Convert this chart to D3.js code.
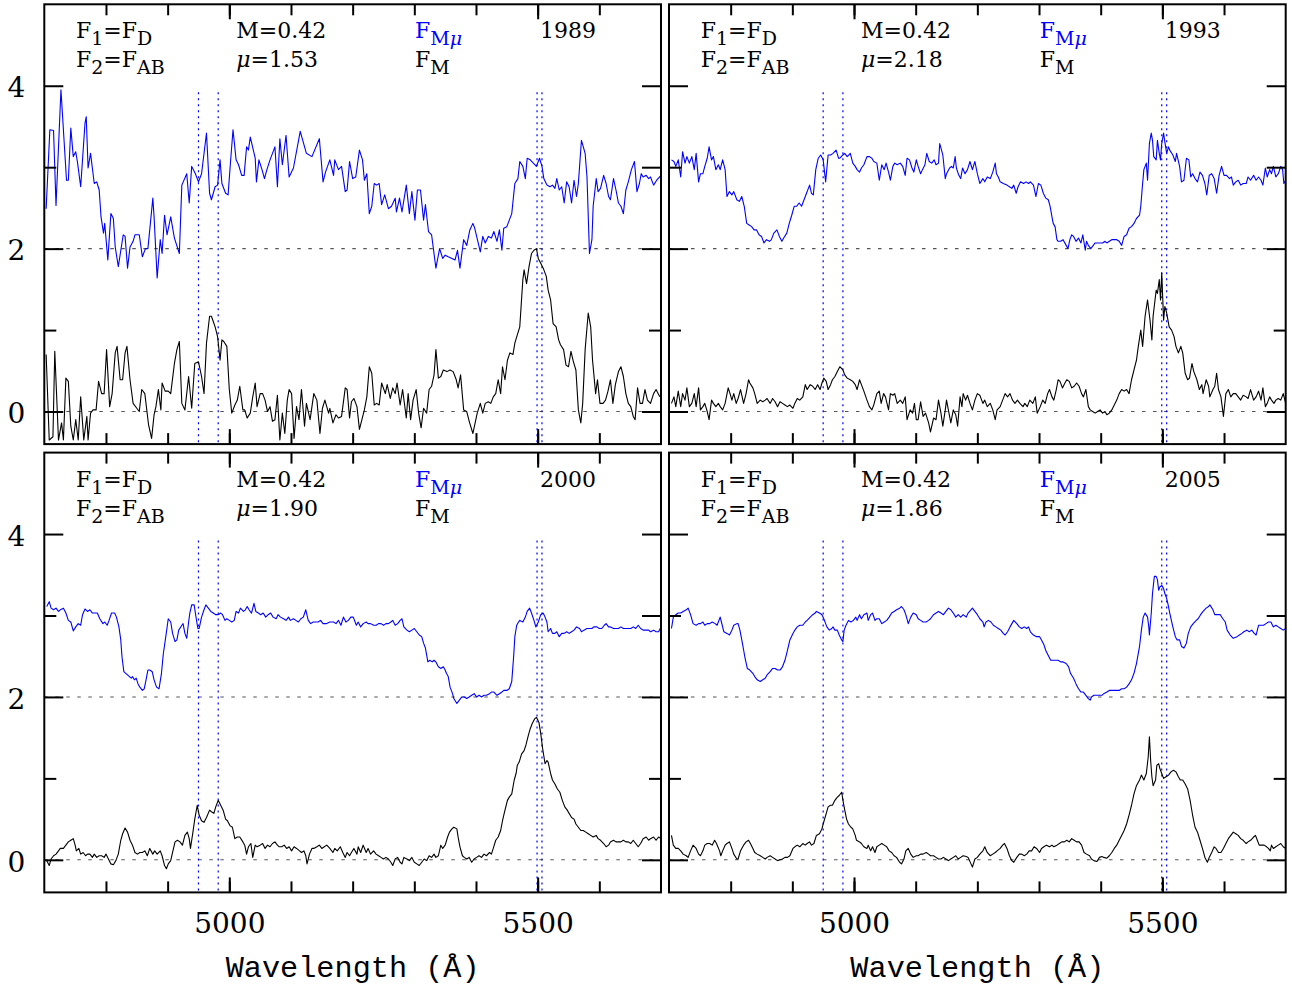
<!DOCTYPE html>
<html><head><meta charset="utf-8">
<script src="https://cdn.jsdelivr.net/npm/d3@7"></script>
<style>body{margin:0;background:#fff}svg{display:block}</style>
</head><body><svg id="c" width="1292" height="989"></svg>
<script>
// ---------- data ----------
const years = ["1989", "1993", "2000", "2005"];
const muValues = ["1.53", "2.18", "1.90", "1.86"];
const mValue = "0.42";
const xDomain = [4700, 5700];
const yDomain = [-0.4, 5.0];
const xMinorTicks = [4800, 4900, 5000, 5100, 5200, 5300, 5400, 5500, 5600];
const xMajorTicks = [5000, 5500];
const yMinorTicks = [1, 3];
const yMajorTicks = [0, 2, 4];
const yRightShortTicks = [1];
const yRightLongTicks = [0, 2, 3, 4];
const refLevels = [0, 2];
const markerLines = [4950, 4982, 5499, 5507];
const markerTop = 3.92;

const blue1989 = [[4703,2.49],[4709,3.46],[4715,3.45],[4719,2.53],[4727,3.95],[4736,2.84],[4739,2.84],[4743,3.48],[4747,3.13],[4751,3.19],[4754,3.05],[4759,2.76],[4766,3.54],[4768,3.62],[4771,2.99],[4775,3.17],[4781,2.80],[4785,2.82],[4789,2.72],[4792,2.39],[4796,2.19],[4798,2.31],[4803,1.86],[4808,2.43],[4812,2.37],[4815,2.02],[4820,1.78],[4828,2.17],[4831,2.15],[4835,1.76],[4839,2.02],[4844,2.09],[4847,2.17],[4854,2.17],[4859,1.90],[4864,2.00],[4868,2.00],[4876,2.62],[4878,2.39],[4883,1.64],[4888,2.11],[4891,1.94],[4895,2.41],[4899,2.17],[4905,2.39],[4911,2.13],[4919,1.94],[4923,2.78],[4931,2.92],[4935,2.56],[4939,3.01],[4945,2.92],[4950,2.82],[4955,2.92],[4963,3.42],[4968,2.68],[4971,2.60],[4977,2.76],[4981,2.78],[4985,3.09],[4988,2.80],[4994,2.68],[4998,2.66],[5002,3.07],[5006,3.46],[5011,3.09],[5015,3.03],[5020,2.90],[5024,2.90],[5028,3.25],[5031,3.21],[5034,3.37],[5042,3.11],[5044,2.82],[5048,3.09],[5053,2.97],[5057,2.86],[5061,2.97],[5066,3.09],[5074,3.25],[5078,2.76],[5082,3.35],[5086,3.03],[5092,3.39],[5097,2.88],[5104,2.99],[5115,3.44],[5125,3.17],[5134,3.13],[5146,3.35],[5152,2.82],[5156,2.94],
[5163,3.09],[5169,2.90],[5171,3.09],[5177,2.97],[5182,3.01],[5188,2.70],[5191,2.72],[5195,3.07],[5200,2.86],[5205,2.88],[5211,3.21],[5216,3.09],[5219,2.84],[5223,2.92],[5227,2.43],[5231,2.52],[5235,2.80],[5239,2.78],[5243,2.80],[5247,2.54],[5252,2.66],[5258,2.49],[5263,2.52],[5269,2.62],[5271,2.45],[5276,2.62],[5280,2.45],[5287,2.78],[5292,2.43],[5296,2.70],[5301,2.35],[5305,2.72],[5310,2.72],[5315,2.35],[5318,2.54],[5323,2.21],[5328,2.17],[5335,1.76],[5341,2.00],[5346,1.88],[5350,1.92],[5355,1.90],[5361,1.88],[5366,1.86],[5370,1.98],[5374,1.76],[5380,2.11],[5385,2.04],[5390,2.23],[5395,2.31],[5398,2.25],[5403,2.09],[5407,1.96],[5411,2.15],[5415,2.07],[5420,2.15],[5425,2.13],[5429,2.21],[5434,2.09],[5438,2.23],[5442,1.98],[5445,2.25],[5450,2.27],[5454,2.35],[5458,2.43],[5463,2.80],[5468,2.86],[5471,3.07],[5476,3.01],[5480,2.86],[5483,3.11],[5488,3.09],[5493,3.05],[5498,3.01],[5503,3.11],[5507,3.01],[5510,2.86],[5515,2.78],[5520,2.76],[5524,2.78],[5528,2.74],[5531,2.86],[5535,2.72],[5539,2.76],[5543,2.56],[5547,2.82],[5551,2.76],[5555,2.56],[5559,2.84],[5563,2.64],[5566,2.80],[5571,3.33],[5577,3.17],[5580,2.88],[5584,1.94],[5588,2.11],[5590,2.52],[5595,2.86],[5598,2.70],[5602,2.74],[5607,2.90],[5611,2.80],[5615,2.64],[5618,2.60],[5623,2.86],[5627,2.72],[5631,2.56],[5635,2.52],[5639,2.43],[5643,2.72],[5647,2.82],[5652,2.97],[5657,3.07],[5661,2.70],[5665,2.80],[5668,2.92],[5671,2.88],[5676,2.90],[5680,2.86],[5683,2.88],[5688,2.78],[5693,2.84],[5700,2.90]];

const black1989 = [[4703,0.70],[4708,-0.35],[4714,-0.31],[4717,0.74],[4723,-0.35],[4728,-0.14],[4731,-0.35],[4735,0.41],[4739,0.37],[4743,-0.18],[4747,-0.35],[4751,-0.10],[4755,-0.35],[4759,0.18],[4764,-0.35],[4769,-0.06],[4771,-0.35],[4775,-0.02],[4779,0.02],[4784,0.02],[4788,0.37],[4793,0.22],[4797,0.22],[4801,0.76],[4806,0.06],[4810,0.22],[4815,0.72],[4818,0.80],[4823,0.39],[4827,0.39],[4831,0.72],[4834,0.80],[4839,0.39],[4844,0.10],[4850,0.04],[4854,0.00],[4858,0.27],[4863,0.22],[4869,-0.16],[4874,-0.33],[4878,-0.04],[4881,0.06],[4885,0.27],[4889,0.02],[4891,0.35],[4896,0.25],[4901,0.25],[4905,0.22],[4911,0.59],[4915,0.76],[4919,0.86],[4923,0.10],[4928,0.02],[4934,0.43],[4939,0.04],[4944,0.59],[4950,0.61],[4955,0.43],[4959,0.22],[4963,0.84],[4968,1.17],[4971,1.17],[4977,1.04],[4981,0.92],[4985,0.63],[4988,0.88],[4991,0.86],[4996,0.80],[5000,0.27],[5004,-0.02],[5009,0.08],[5013,0.14],[5017,0.31],[5022,0.02],[5025,0.02],[5029,-0.08],[5034,-0.02],[5038,0.18],[5042,0.35],[5045,0.06],[5050,0.22],[5054,0.22],[5058,0.14],[5062,0.00],[5066,0.06],[5070,-0.12],[5074,-0.10],[5078,0.20],[5082,-0.35],[5086,-0.02],[5090,-0.27],[5094,0.14],[5097,0.27],[5101,0.22],[5105,-0.33],[5109,0.06],[5113,-0.10],[5117,0.27],[5122,-0.18],[5125,0.10],[5131,-0.10],[5137,0.22],[5142,0.14],[5147,-0.27],[5151,0.04],[5155,0.14],[5161,-0.02],
[5163,0.04],[5168,-0.14],[5173,-0.04],[5177,-0.08],[5182,-0.06],[5188,0.29],[5191,0.27],[5195,-0.08],[5198,0.12],[5202,0.16],[5207,0.06],[5211,-0.22],[5215,-0.10],[5219,0.02],[5223,0.18],[5227,0.55],[5231,0.47],[5235,0.08],[5239,0.10],[5243,0.08],[5247,0.35],[5253,0.22],[5256,0.33],[5261,0.16],[5265,0.29],[5269,0.22],[5272,0.35],[5277,0.08],[5281,0.27],[5287,-0.08],[5290,0.22],[5294,-0.10],[5298,0.14],[5303,0.27],[5307,-0.02],[5311,-0.20],[5315,0.04],[5320,-0.02],[5324,0.27],[5328,0.31],[5332,0.45],[5335,0.76],[5339,0.41],[5343,0.43],[5347,0.51],[5353,0.49],[5358,0.51],[5363,0.49],[5368,0.39],[5371,0.29],[5375,0.45],[5380,0.02],[5385,0.00],[5389,-0.12],[5395,-0.27],[5398,-0.16],[5402,-0.02],[5407,0.10],[5411,-0.02],[5415,0.10],[5420,0.12],[5424,0.10],[5428,0.18],[5432,0.22],[5436,0.39],[5440,0.22],[5443,0.55],[5447,0.39],[5451,0.63],[5455,0.72],[5460,0.70],[5463,0.84],[5467,0.94],[5471,1.04],[5476,1.62],[5478,1.74],[5482,1.57],[5486,1.78],[5490,1.94],[5494,1.98],[5498,2.00],[5501,1.88],[5505,1.82],[5509,1.76],[5514,1.66],[5517,1.49],[5521,1.37],[5525,1.08],[5530,1.04],[5534,0.88],[5537,0.82],[5542,0.76],[5546,0.57],[5550,0.55],[5554,0.74],[5558,0.61],[5562,0.51],[5566,0.02],[5570,-0.14],[5573,0.10],[5577,0.76],[5582,1.21],[5586,1.04],[5589,0.63],[5594,0.22],[5597,0.39],[5601,0.10],[5606,0.10],[5610,0.14],[5614,0.25],[5618,0.39],[5622,0.10],[5626,0.33],[5631,0.49],[5635,0.55],[5639,0.43],[5643,0.22],[5647,0.10],[5651,0.06],[5655,-0.06],[5658,-0.10],[5662,0.29],[5666,0.10],[5670,0.10],[5674,0.27],[5678,0.14],[5683,0.10],[5688,0.22],[5692,0.27],[5698,0.18]];

const blue1993 = [[4704,3.09],[4708,3.07],[4711,3.01],[4715,3.09],[4719,2.88],[4722,3.19],[4726,3.05],[4729,3.13],[4733,3.05],[4737,3.13],[4741,2.97],[4744,3.17],[4748,2.82],[4751,2.92],[4755,2.92],[4758,3.01],[4762,3.11],[4765,3.25],[4769,3.09],[4772,3.13],[4776,2.97],[4780,3.03],[4783,2.97],[4787,3.09],[4791,2.97],[4794,2.64],[4798,2.70],[4802,2.66],[4805,2.70],[4810,2.60],[4814,2.58],[4818,2.64],[4822,2.52],[4826,2.31],[4830,2.29],[4834,2.27],[4838,2.23],[4842,2.23],[4846,2.17],[4850,2.15],[4854,2.07],[4858,2.11],[4863,2.09],[4866,2.11],[4870,2.19],[4875,2.23],[4879,2.15],[4883,2.09],[4886,2.13],[4891,2.19],[4895,2.31],[4899,2.41],[4903,2.52],[4907,2.52],[4911,2.56],[4915,2.52],[4919,2.60],[4923,2.68],[4928,2.78],[4931,2.68],[4934,2.66],[4938,2.97],[4942,3.11],[4946,3.15],[4950,3.09],[4954,2.82],[4958,3.15],[4962,3.15],[4966,3.17],[4971,3.21],[4975,3.11],[4977,3.11],[4982,3.15],[4985,3.17],[4989,3.13],[4994,3.17],[4998,3.05],[5002,3.01],[5005,2.97],[5009,2.94],[5012,2.99],[5016,3.03],[5021,3.13],[5025,3.13],[5029,3.11],[5032,3.07],[5037,3.05],[5041,2.84],[5045,3.03],[5049,2.97],[5052,3.05],[5056,2.94],[5059,2.84],[5063,3.01],[5066,3.05],[5070,3.03],[5075,3.05],[5079,3.01],[5083,2.90],[5086,3.11],[5090,3.09],[5094,2.99],[5097,2.94],[5101,3.09],[5104,3.01],[5108,2.92],[5111,2.97],[5115,3.03],[5118,3.17],[5122,3.07],[5126,3.05],[5130,3.09],[5133,3.03],[5137,3.05],[5139,3.29],[5144,3.15],[5148,2.86],[5150,2.92],[5155,2.99],[5158,3.01],[5161,2.99],[5164,3.13],[5166,2.99],[5170,2.90],[5173,2.86],[5176,2.99],[5180,2.92],[5184,2.97],
[5188,3.07],[5192,2.97],[5196,3.07],[5200,2.92],[5204,2.80],[5209,2.86],[5212,2.82],[5216,2.88],[5221,2.86],[5225,2.94],[5229,3.05],[5231,2.92],[5234,2.88],[5237,2.82],[5242,2.80],[5248,2.78],[5252,2.76],[5256,2.74],[5259,2.78],[5263,2.68],[5266,2.76],[5270,2.82],[5275,2.80],[5279,2.82],[5283,2.80],[5286,2.82],[5291,2.78],[5295,2.64],[5299,2.80],[5303,2.78],[5307,2.68],[5311,2.62],[5315,2.60],[5318,2.52],[5321,2.39],[5323,2.31],[5326,2.27],[5329,2.11],[5331,2.09],[5335,2.09],[5339,2.11],[5344,2.04],[5347,2.00],[5350,2.11],[5353,2.17],[5356,2.15],[5360,2.09],[5364,2.13],[5368,2.07],[5371,2.17],[5375,1.98],[5377,2.09],[5380,2.04],[5384,2.00],[5388,2.04],[5391,2.07],[5395,2.07],[5399,2.07],[5403,2.07],[5407,2.09],[5410,2.07],[5414,2.09],[5418,2.11],[5422,2.11],[5426,2.11],[5430,2.09],[5434,2.04],[5438,2.15],[5442,2.17],[5446,2.25],[5450,2.27],[5454,2.31],[5458,2.37],[5463,2.41],[5465,2.52],[5468,2.80],[5470,2.97],[5474,3.05],[5476,2.84],[5479,3.29],[5482,3.42],[5484,3.33],[5486,3.13],[5490,3.09],[5492,3.33],[5495,3.17],[5497,3.09],[5499,3.29],[5502,3.42],[5504,3.31],[5507,3.17],[5510,3.25],[5512,3.21],[5517,3.15],[5521,3.07],[5523,3.17],[5528,3.01],[5531,2.82],[5535,2.84],[5539,3.11],[5543,3.09],[5546,2.88],[5549,2.92],[5553,2.86],[5557,2.82],[5561,2.94],[5565,2.90],[5569,2.80],[5572,2.66],[5576,2.90],[5580,2.92],[5584,2.86],[5588,2.68],[5592,2.90],[5596,3.01],[5600,2.90],[5604,2.90],[5609,2.86],[5612,2.88],[5615,2.78],[5619,2.82],[5623,2.84],[5627,2.78],[5631,2.80],[5636,2.80],[5639,2.88],[5643,2.84],[5648,2.90],[5652,2.84],[5656,2.88],[5660,2.84],[5663,2.78],[5667,2.99],[5670,2.88],[5674,2.97],[5677,2.92],[5680,3.01],[5684,2.88],[5688,2.92],[5692,3.01],[5695,2.97],[5697,2.80],[5700,2.84]];

const black1993 = [[4704,0.10],[4708,0.18],[4711,0.06],[4715,0.25],[4719,0.06],[4722,0.22],[4726,0.14],[4729,0.29],[4733,0.06],[4737,0.10],[4741,0.22],[4744,0.06],[4748,0.29],[4751,0.02],[4755,0.06],[4758,0.10],[4762,0.00],[4765,-0.10],[4769,0.14],[4772,0.10],[4776,0.06],[4780,0.10],[4783,0.06],[4787,0.02],[4791,0.10],[4796,0.29],[4799,0.22],[4802,0.14],[4805,0.22],[4809,0.10],[4812,0.16],[4816,0.27],[4821,0.10],[4825,0.22],[4829,0.39],[4831,0.35],[4836,0.29],[4839,0.22],[4843,0.10],[4848,0.14],[4852,0.12],[4856,0.14],[4859,0.16],[4864,0.10],[4868,0.16],[4872,0.12],[4876,0.06],[4880,0.12],[4884,0.10],[4888,0.08],[4892,0.06],[4896,0.08],[4901,0.04],[4904,0.10],[4908,0.16],[4912,0.14],[4917,0.18],[4921,0.33],[4924,0.27],[4929,0.33],[4933,0.31],[4937,0.27],[4941,0.33],[4945,0.27],[4948,0.35],[4951,0.41],[4955,0.37],[4958,0.27],[4962,0.33],[4965,0.39],[4969,0.43],[4973,0.49],[4977,0.55],[4982,0.51],[4985,0.45],[4989,0.41],[4994,0.39],[4998,0.37],[5002,0.33],[5005,0.27],[5009,0.39],[5012,0.33],[5016,0.25],[5021,0.14],[5025,0.06],[5029,0.02],[5032,0.08],[5037,0.22],[5041,0.25],[5044,0.10],[5048,0.22],[5051,0.18],[5056,0.02],[5059,0.22],[5063,0.20],[5066,0.22],[5070,0.10],[5075,0.14],[5079,0.10],[5083,0.18],[5086,-0.10],[5091,0.02],[5095,-0.02],[5098,0.10],[5101,-0.10],[5104,-0.10],[5108,0.12],[5112,-0.06],[5116,-0.02],[5121,-0.14],[5124,-0.25],[5129,-0.08],[5133,-0.10],[5137,0.14],[5141,-0.02],[5144,-0.18],[5148,0.02],[5150,0.14],[5154,-0.02],[5157,-0.14],[5161,0.02],[5165,-0.04],[5168,-0.18],[5172,0.18],[5175,0.06],[5177,0.22],[5181,0.14],[5184,0.20],[5188,0.10],
[5192,0.02],[5196,0.14],[5200,0.22],[5204,0.20],[5209,0.10],[5212,0.14],[5216,0.06],[5221,0.10],[5225,0.02],[5229,-0.10],[5232,0.02],[5237,0.06],[5241,0.14],[5245,0.22],[5249,0.18],[5253,0.22],[5257,0.14],[5261,0.10],[5265,0.14],[5269,0.10],[5274,0.06],[5277,0.10],[5281,0.06],[5285,0.14],[5290,0.10],[5294,0.18],[5297,-0.02],[5302,0.06],[5306,0.14],[5310,0.10],[5314,0.22],[5317,0.27],[5321,0.18],[5324,0.14],[5328,0.27],[5331,0.39],[5334,0.37],[5338,0.29],[5342,0.35],[5345,0.39],[5349,0.37],[5353,0.29],[5357,0.31],[5361,0.35],[5365,0.31],[5369,0.22],[5372,0.18],[5376,0.27],[5380,0.06],[5383,0.02],[5387,0.00],[5391,-0.02],[5395,0.00],[5399,0.02],[5403,-0.02],[5407,0.00],[5410,-0.04],[5414,-0.02],[5418,0.02],[5422,0.08],[5426,0.14],[5430,0.22],[5434,0.27],[5438,0.25],[5442,0.27],[5446,0.22],[5450,0.39],[5454,0.51],[5458,0.63],[5461,0.80],[5465,1.00],[5468,0.80],[5472,1.17],[5476,1.37],[5480,1.12],[5483,0.88],[5485,1.17],[5490,1.49],[5492,1.45],[5495,1.62],[5497,1.37],[5499,1.70],[5502,1.12],[5504,1.29],[5507,1.21],[5511,1.04],[5515,1.00],[5519,0.92],[5522,0.80],[5526,0.72],[5530,0.80],[5533,0.72],[5537,0.47],[5541,0.39],[5544,0.41],[5548,0.59],[5551,0.49],[5556,0.39],[5560,0.27],[5564,0.33],[5566,0.22],[5571,0.39],[5575,0.31],[5577,0.18],[5582,0.27],[5585,0.31],[5588,0.47],[5591,0.27],[5595,0.18],[5599,-0.06],[5603,0.22],[5607,0.27],[5611,0.18],[5615,0.22],[5619,0.22],[5623,0.18],[5627,0.14],[5631,0.20],[5636,0.18],[5639,0.16],[5643,0.27],[5648,0.14],[5652,0.18],[5656,0.25],[5660,0.14],[5663,0.29],[5667,0.06],[5670,0.10],[5674,0.18],[5677,0.14],[5681,0.10],[5684,0.14],[5688,0.16],[5692,0.14],[5696,0.22],[5700,0.10]];

const blue2000 = [[4704,3.11],[4708,3.17],[4711,3.09],[4715,3.07],[4719,3.09],[4723,3.05],[4726,3.07],[4731,3.09],[4735,3.03],[4739,2.94],[4743,2.92],[4747,2.81],[4751,2.86],[4755,2.90],[4759,2.88],[4762,3.01],[4766,3.08],[4770,3.05],[4774,3.07],[4778,3.03],[4782,3.03],[4786,3.03],[4790,2.96],[4795,2.90],[4798,2.92],[4802,2.88],[4805,2.94],[4809,3.03],[4814,3.03],[4817,2.98],[4821,2.86],[4824,2.70],[4826,2.49],[4829,2.31],[4832,2.29],[4835,2.27],[4838,2.25],[4841,2.23],[4843,2.25],[4846,2.21],[4849,2.23],[4852,2.16],[4855,2.12],[4859,2.08],[4862,2.10],[4865,2.21],[4868,2.33],[4871,2.33],[4875,2.31],[4878,2.21],[4882,2.12],[4886,2.10],[4890,2.29],[4893,2.53],[4897,2.74],[4901,2.96],[4905,2.92],[4908,2.78],[4912,2.68],[4915,2.70],[4918,2.82],[4923,2.88],[4925,2.90],[4928,2.78],[4931,2.72],[4934,2.92],[4936,3.03],[4939,3.13],[4943,3.13],[4946,2.98],[4949,2.84],[4951,2.84],[4955,2.98],[4959,3.07],[4962,3.13],[4966,3.09],[4970,3.05],[4974,3.03],[4978,3.01],[4982,3.01],[4986,3.03],[4989,3.01],[4993,2.94],[4996,2.96],[5000,2.94],[5004,2.92],[5008,2.94],[5011,3.05],[5015,3.03],[5018,3.09],[5023,3.05],[5026,3.07],[5029,3.11],[5032,3.07],[5036,3.03],[5040,3.15],[5043,3.05],[5047,3.03],[5051,3.01],[5055,3.03],[5059,2.98],[5063,3.01],[5067,3.03],[5071,2.98],[5076,2.96],[5079,3.01],[5083,2.98],[5088,2.96],[5092,2.94],[5096,2.98],[5099,2.94],[5104,2.96],[5108,2.94],[5112,2.92],[5116,2.96],[5120,2.98],[5124,3.07],[5128,2.94],[5132,2.90],[5136,2.92],[5141,2.92],[5144,2.92],[5148,2.94],[5152,2.90],[5157,2.90],
[5163,2.92],[5169,2.92],[5173,2.90],[5177,2.94],[5181,2.88],[5185,2.98],[5189,2.92],[5193,2.94],[5197,2.98],[5201,2.98],[5206,2.88],[5209,2.92],[5213,2.86],[5217,2.90],[5222,2.92],[5225,2.90],[5229,2.90],[5234,2.88],[5238,2.88],[5242,2.90],[5246,2.90],[5250,2.88],[5254,2.90],[5258,2.90],[5262,2.92],[5265,2.94],[5269,2.88],[5273,2.90],[5277,2.94],[5280,2.96],[5283,2.86],[5288,2.82],[5292,2.80],[5296,2.82],[5300,2.84],[5304,2.80],[5308,2.76],[5312,2.74],[5315,2.66],[5318,2.60],[5322,2.43],[5325,2.45],[5329,2.43],[5332,2.45],[5335,2.43],[5339,2.37],[5343,2.35],[5347,2.37],[5350,2.33],[5352,2.29],[5355,2.25],[5358,2.12],[5362,2.04],[5364,1.98],[5369,1.92],[5373,1.96],[5377,2.00],[5381,2.00],[5385,1.98],[5389,2.00],[5393,2.02],[5397,2.04],[5401,2.00],[5405,2.02],[5409,2.00],[5413,2.02],[5417,2.02],[5422,2.04],[5425,2.06],[5429,2.06],[5434,2.02],[5438,2.04],[5442,2.06],[5445,2.08],[5450,2.08],[5454,2.10],[5458,2.19],[5461,2.49],[5463,2.74],[5466,2.88],[5469,2.92],[5471,2.94],[5476,2.92],[5480,2.98],[5483,3.05],[5487,3.09],[5490,3.03],[5494,2.94],[5497,2.86],[5501,2.92],[5505,3.01],[5509,3.03],[5512,2.98],[5515,2.92],[5517,2.80],[5521,2.84],[5524,2.78],[5528,2.78],[5531,2.80],[5535,2.74],[5539,2.78],[5543,2.78],[5547,2.80],[5551,2.78],[5555,2.80],[5559,2.82],[5563,2.86],[5568,2.84],[5571,2.80],[5575,2.82],[5580,2.84],[5584,2.84],[5588,2.84],[5591,2.86],[5596,2.86],[5600,2.84],[5604,2.84],[5608,2.88],[5611,2.90],[5615,2.86],[5618,2.86],[5623,2.84],[5627,2.84],[5631,2.84],[5635,2.86],[5639,2.84],[5643,2.84],[5647,2.84],[5651,2.84],[5655,2.86],[5659,2.84],[5663,2.88],[5667,2.84],[5671,2.82],[5676,2.82],[5680,2.82],[5683,2.80],[5688,2.82],[5692,2.80],[5696,2.80],[5700,2.86]];

const black2000 = [[4704,-0.01],[4708,-0.07],[4711,0.01],[4715,0.05],[4719,0.07],[4723,0.11],[4726,0.14],[4731,0.14],[4735,0.18],[4739,0.22],[4743,0.24],[4747,0.26],[4750,0.18],[4752,0.11],[4756,0.14],[4759,0.07],[4763,0.09],[4767,0.05],[4770,0.07],[4774,0.07],[4778,0.03],[4781,0.07],[4785,0.03],[4789,0.05],[4793,0.05],[4797,0.03],[4800,0.07],[4804,0.01],[4808,-0.05],[4812,-0.06],[4816,-0.01],[4820,0.07],[4824,0.24],[4827,0.32],[4831,0.39],[4835,0.34],[4839,0.24],[4843,0.18],[4847,0.09],[4851,0.07],[4855,0.09],[4859,0.09],[4863,0.11],[4867,0.05],[4871,0.14],[4876,0.07],[4879,0.11],[4883,0.07],[4888,0.11],[4891,0.05],[4895,-0.07],[4898,-0.11],[4901,-0.05],[4905,-0.01],[4908,0.09],[4912,0.22],[4916,0.24],[4920,0.22],[4924,0.18],[4928,0.30],[4932,0.34],[4935,0.26],[4937,0.14],[4941,0.34],[4944,0.50],[4948,0.67],[4951,0.55],[4955,0.48],[4959,0.46],[4963,0.52],[4968,0.61],[4971,0.59],[4975,0.57],[4978,0.65],[4982,0.73],[4986,0.67],[4990,0.61],[4994,0.50],[4997,0.48],[5001,0.42],[5005,0.40],[5009,0.26],[5013,0.28],[5017,0.28],[5022,0.22],[5025,0.18],[5028,0.07],[5031,0.16],[5035,0.20],[5038,0.03],[5042,0.18],[5045,0.16],[5050,0.18],[5054,0.20],[5058,0.14],[5062,0.18],[5066,0.16],[5070,0.20],[5074,0.22],[5078,0.18],[5081,0.16],[5085,0.16],[5089,0.18],[5093,0.14],[5097,0.16],[5101,0.11],[5105,0.16],[5109,0.14],[5114,0.11],[5117,0.09],[5121,0.11],[5124,0.05],[5126,-0.05],[5130,0.07],[5134,0.14],[5137,0.14],[5142,0.16],[5146,0.18],[5150,0.14],[5154,0.16],[5158,0.18],
[5163,0.14],[5168,0.09],[5171,0.14],[5175,0.11],[5180,0.16],[5184,0.09],[5188,0.03],[5191,0.09],[5195,0.05],[5198,0.09],[5202,0.14],[5207,0.07],[5209,0.16],[5213,0.09],[5217,0.18],[5222,0.09],[5225,0.14],[5229,0.07],[5234,0.11],[5238,0.07],[5242,0.05],[5246,0.03],[5250,0.01],[5254,0.03],[5258,0.01],[5262,-0.03],[5265,-0.07],[5269,0.01],[5273,0.03],[5277,-0.03],[5280,-0.05],[5283,0.03],[5288,0.01],[5292,-0.01],[5296,0.03],[5300,-0.03],[5304,-0.05],[5308,-0.07],[5312,-0.03],[5316,0.01],[5320,-0.01],[5324,0.05],[5328,0.03],[5332,0.07],[5335,0.03],[5339,0.05],[5343,0.18],[5346,0.14],[5350,0.18],[5354,0.28],[5357,0.34],[5361,0.38],[5364,0.40],[5369,0.38],[5371,0.28],[5374,0.16],[5378,0.05],[5381,0.03],[5385,0.01],[5389,0.03],[5393,-0.03],[5397,0.01],[5401,0.03],[5405,0.05],[5409,0.03],[5413,0.07],[5417,0.05],[5422,0.09],[5425,0.07],[5428,0.14],[5432,0.24],[5436,0.28],[5440,0.36],[5443,0.48],[5447,0.61],[5451,0.73],[5454,0.77],[5458,0.81],[5462,0.98],[5465,1.06],[5467,1.16],[5470,1.20],[5474,1.30],[5478,1.34],[5481,1.41],[5485,1.53],[5488,1.61],[5491,1.67],[5495,1.73],[5498,1.75],[5502,1.69],[5505,1.55],[5508,1.37],[5512,1.18],[5515,1.22],[5517,1.20],[5521,1.06],[5524,0.98],[5528,0.93],[5532,0.87],[5536,0.83],[5540,0.73],[5544,0.65],[5548,0.61],[5551,0.57],[5555,0.52],[5559,0.50],[5562,0.44],[5566,0.40],[5570,0.36],[5574,0.36],[5578,0.34],[5582,0.32],[5586,0.30],[5590,0.28],[5595,0.30],[5598,0.26],[5602,0.24],[5607,0.20],[5611,0.16],[5615,0.18],[5618,0.22],[5623,0.24],[5627,0.22],[5631,0.22],[5635,0.22],[5639,0.24],[5643,0.22],[5647,0.22],[5651,0.20],[5655,0.24],[5659,0.20],[5663,0.16],[5667,0.20],[5671,0.26],[5676,0.28],[5680,0.24],[5683,0.26],[5688,0.28],[5692,0.24],[5696,0.28],[5700,0.26]];

const blue2005 = [[4704,2.84],[4707,2.98],[4711,3.01],[4715,3.03],[4719,3.03],[4723,3.05],[4728,3.07],[4731,3.09],[4735,3.01],[4739,2.90],[4744,2.88],[4748,2.90],[4751,2.90],[4755,2.92],[4758,2.88],[4762,2.90],[4766,2.90],[4770,2.92],[4775,2.90],[4778,2.88],[4783,2.98],[4785,2.92],[4789,2.80],[4794,2.78],[4798,2.76],[4802,2.82],[4805,2.88],[4810,2.90],[4812,2.90],[4815,2.82],[4819,2.66],[4823,2.49],[4827,2.35],[4831,2.33],[4836,2.29],[4839,2.25],[4843,2.21],[4848,2.19],[4852,2.21],[4856,2.23],[4859,2.27],[4864,2.31],[4868,2.35],[4872,2.35],[4876,2.33],[4880,2.33],[4884,2.37],[4888,2.45],[4892,2.57],[4896,2.70],[4901,2.78],[4904,2.82],[4908,2.86],[4912,2.88],[4917,2.88],[4921,2.92],[4924,2.94],[4929,2.98],[4933,3.01],[4937,3.03],[4939,3.05],[4944,3.03],[4948,3.01],[4951,2.96],[4956,2.86],[4960,2.82],[4964,2.84],[4966,2.86],[4969,2.82],[4973,2.82],[4976,2.76],[4980,2.70],[4982,2.68],[4984,2.82],[4987,2.88],[4991,2.94],[4995,2.92],[4999,2.94],[5003,2.98],[5005,2.94],[5009,3.01],[5012,2.96],[5016,3.01],[5021,3.03],[5023,2.94],[5027,3.01],[5030,3.03],[5034,2.94],[5037,2.96],[5041,2.96],[5045,2.90],[5049,2.92],[5053,2.94],[5057,2.98],[5061,3.03],[5065,3.05],[5069,3.07],[5074,3.09],[5077,3.11],[5081,3.07],[5084,3.01],[5088,2.90],[5092,2.98],[5096,3.03],[5101,3.01],[5104,2.96],[5108,2.94],[5112,2.92],[5117,2.92],[5121,2.94],[5124,2.96],[5129,3.01],[5133,3.03],[5137,3.05],[5141,3.03],[5145,3.01],[5149,3.05],[5153,3.09],[5157,3.07],[5161,3.03],[5165,2.98],[5169,3.01],[5173,2.98],[5177,3.01],[5182,2.98],[5185,3.03],
[5192,3.09],[5196,3.05],[5200,3.01],[5204,2.96],[5209,2.92],[5211,2.86],[5214,2.92],[5218,2.94],[5222,2.92],[5226,2.88],[5230,2.86],[5234,2.84],[5238,2.82],[5242,2.78],[5245,2.76],[5249,2.80],[5253,2.86],[5256,2.90],[5259,2.94],[5264,2.90],[5268,2.86],[5272,2.84],[5276,2.86],[5280,2.84],[5283,2.86],[5286,2.80],[5291,2.76],[5296,2.74],[5301,2.74],[5304,2.70],[5308,2.64],[5311,2.57],[5315,2.51],[5319,2.45],[5323,2.45],[5328,2.45],[5331,2.45],[5335,2.43],[5339,2.43],[5344,2.41],[5348,2.37],[5351,2.29],[5356,2.23],[5360,2.16],[5364,2.10],[5368,2.06],[5372,2.06],[5376,2.02],[5380,1.98],[5383,1.96],[5385,2.00],[5389,2.02],[5394,2.02],[5398,2.02],[5402,2.02],[5405,2.04],[5410,2.06],[5414,2.08],[5418,2.08],[5422,2.08],[5426,2.08],[5430,2.08],[5434,2.10],[5438,2.10],[5442,2.12],[5446,2.16],[5450,2.21],[5454,2.29],[5458,2.41],[5463,2.62],[5466,2.82],[5469,2.98],[5472,3.03],[5476,2.98],[5478,2.86],[5479,2.76],[5482,3.03],[5484,3.27],[5487,3.48],[5490,3.48],[5492,3.44],[5494,3.31],[5496,3.35],[5499,3.37],[5502,3.33],[5504,3.27],[5507,3.21],[5510,3.11],[5512,3.03],[5517,2.86],[5521,2.74],[5524,2.70],[5528,2.70],[5531,2.62],[5535,2.60],[5539,2.66],[5542,2.78],[5546,2.86],[5550,2.90],[5555,2.94],[5558,2.96],[5562,3.01],[5566,3.05],[5571,3.09],[5575,3.11],[5577,3.13],[5582,3.07],[5585,3.01],[5589,3.01],[5594,3.01],[5598,2.96],[5602,2.92],[5605,2.82],[5610,2.76],[5615,2.72],[5621,2.74],[5625,2.76],[5629,2.78],[5632,2.80],[5637,2.82],[5641,2.80],[5645,2.82],[5649,2.78],[5652,2.76],[5656,2.88],[5660,2.88],[5664,2.88],[5668,2.90],[5672,2.92],[5676,2.92],[5680,2.86],[5684,2.88],[5688,2.86],[5692,2.84],[5696,2.82],[5700,2.84]];

const black2005 = [[4704,0.30],[4707,0.18],[4711,0.14],[4715,0.14],[4719,0.11],[4723,0.07],[4728,0.05],[4731,0.03],[4735,0.11],[4739,0.18],[4744,0.14],[4748,0.07],[4751,0.05],[4755,0.11],[4758,0.18],[4762,0.20],[4766,0.20],[4770,0.18],[4774,0.24],[4777,0.20],[4782,0.11],[4784,0.05],[4787,0.11],[4791,0.18],[4794,0.20],[4798,0.22],[4802,0.14],[4805,0.07],[4810,0.01],[4812,0.01],[4816,0.11],[4821,0.18],[4825,0.22],[4829,0.24],[4832,0.20],[4836,0.14],[4839,0.09],[4843,0.07],[4848,0.05],[4852,0.03],[4856,0.01],[4859,0.03],[4864,0.05],[4868,0.03],[4872,0.01],[4876,-0.01],[4880,0.00],[4884,0.01],[4888,0.03],[4892,0.03],[4896,0.05],[4901,0.14],[4904,0.16],[4908,0.18],[4912,0.16],[4917,0.20],[4921,0.18],[4924,0.20],[4928,0.22],[4931,0.18],[4935,0.20],[4939,0.30],[4944,0.32],[4948,0.38],[4950,0.44],[4955,0.57],[4958,0.65],[4962,0.67],[4965,0.67],[4969,0.73],[4973,0.77],[4976,0.79],[4980,0.83],[4983,0.69],[4985,0.61],[4988,0.50],[4991,0.44],[4995,0.40],[4998,0.38],[5002,0.30],[5004,0.24],[5009,0.22],[5012,0.20],[5016,0.16],[5021,0.14],[5023,0.18],[5027,0.11],[5030,0.16],[5034,0.09],[5037,0.16],[5041,0.18],[5045,0.20],[5049,0.18],[5053,0.16],[5057,0.11],[5061,0.09],[5065,0.05],[5069,0.03],[5074,-0.03],[5077,-0.05],[5081,0.01],[5084,0.11],[5088,0.14],[5092,0.07],[5096,0.03],[5101,0.05],[5104,0.05],[5108,0.07],[5112,0.07],[5117,0.09],[5121,0.07],[5124,0.05],[5129,0.05],[5133,0.03],[5137,0.01],[5141,0.01],[5145,0.03],[5149,0.01],[5153,-0.01],[5157,0.01],[5161,0.03],[5165,0.05],[5169,0.01],[5173,0.03],[5177,0.05],[5182,0.04],[5185,0.03],
[5192,-0.09],[5196,0.01],[5200,0.03],[5204,0.07],[5209,0.11],[5212,0.16],[5216,0.09],[5221,0.05],[5225,0.07],[5229,0.09],[5232,0.11],[5237,0.14],[5241,0.18],[5244,0.20],[5248,0.14],[5252,0.05],[5256,-0.01],[5259,-0.03],[5264,0.03],[5268,0.07],[5272,0.07],[5276,0.05],[5280,0.07],[5284,0.11],[5288,0.11],[5292,0.16],[5296,0.14],[5301,0.09],[5304,0.14],[5308,0.16],[5312,0.18],[5317,0.16],[5321,0.18],[5324,0.16],[5329,0.18],[5333,0.20],[5337,0.22],[5341,0.22],[5345,0.24],[5349,0.22],[5353,0.26],[5357,0.24],[5361,0.22],[5365,0.22],[5369,0.18],[5373,0.09],[5377,0.07],[5382,0.05],[5385,0.01],[5389,-0.01],[5394,-0.02],[5398,0.03],[5402,0.04],[5405,0.03],[5410,0.02],[5414,0.05],[5418,0.09],[5422,0.14],[5426,0.18],[5430,0.24],[5434,0.30],[5438,0.36],[5442,0.44],[5446,0.55],[5450,0.67],[5454,0.81],[5458,0.91],[5463,0.98],[5466,1.04],[5470,0.98],[5474,1.06],[5477,1.26],[5479,1.51],[5481,1.22],[5483,1.02],[5485,0.91],[5489,0.98],[5491,1.16],[5494,1.18],[5496,1.12],[5499,1.06],[5502,1.00],[5506,1.02],[5510,1.04],[5514,1.08],[5518,1.10],[5522,1.08],[5526,1.02],[5529,0.98],[5533,0.98],[5537,0.93],[5541,0.87],[5545,0.73],[5549,0.55],[5553,0.40],[5557,0.34],[5561,0.24],[5565,0.14],[5569,0.03],[5573,-0.03],[5576,0.03],[5580,0.09],[5584,0.16],[5587,0.14],[5591,0.09],[5595,0.09],[5599,0.14],[5603,0.20],[5607,0.26],[5611,0.30],[5615,0.34],[5619,0.32],[5623,0.30],[5627,0.26],[5631,0.24],[5636,0.20],[5639,0.22],[5643,0.24],[5648,0.28],[5651,0.30],[5654,0.24],[5657,0.18],[5661,0.18],[5665,0.18],[5669,0.16],[5672,0.14],[5675,0.11],[5677,0.18],[5680,0.14],[5684,0.16],[5688,0.18],[5692,0.20],[5696,0.16],[5700,0.14]];

const blueSeries = [blue1989, blue1993, blue2000, blue2005];
const blackSeries = [black1989, black1993, black2000, black2005];

// ---------- layout ----------
const PW = 616.7, PH = 439.8;
const panelX = [44.3, 669.0, 44.3, 669.0];
const panelY = [4.3, 4.3, 452.6, 452.6];
const SERIF = "'DejaVu Serif', serif";
const BLUE = "#0000ff";

const svg = d3.select("#c");

function richText(g, x, y, parts, color) {
  const t = g.append("text").attr("x", x).attr("y", y)
    .attr("font-family", SERIF).attr("font-size", 22).attr("fill", color);
  let shifted = false;
  parts.forEach(([s, sub, italic]) => {
    const ts = t.append("tspan").text(s);
    if (sub && !shifted) { ts.attr("dy", 7); shifted = true; }
    else if (!sub && shifted) { ts.attr("dy", -7); shifted = false; }
    if (sub) ts.attr("font-size", 19);
    if (italic) ts.attr("font-style", "italic");
  });
  return t;
}

years.forEach((yr, i) => {
  const x0 = panelX[i], y0 = panelY[i];
  const isLeft = (i % 2 === 0), isBottom = i >= 2;
  const g = svg.append("g");
  const x = d3.scaleLinear().domain(xDomain).range([x0, x0 + PW]);
  const y = d3.scaleLinear().domain(yDomain).range([y0 + PH, y0]);

  const clipId = "clip" + i;
  svg.append("clipPath").attr("id", clipId).append("rect")
    .attr("x", x0).attr("y", y0).attr("width", PW).attr("height", PH);
  const plot = g.append("g").attr("clip-path", `url(#${clipId})`);

  plot.selectAll(".lvl").data(refLevels).join("line")
    .attr("x1", x(xDomain[0])).attr("x2", x(xDomain[1]))
    .attr("y1", d => y(d)).attr("y2", d => y(d))
    .attr("stroke", "#555").attr("stroke-width", 1.1).attr("stroke-dasharray", "3.5,7.5");

  plot.selectAll(".mk").data(markerLines).join("line")
    .attr("x1", d => x(d)).attr("x2", d => x(d))
    .attr("y1", y(markerTop)).attr("y2", y(yDomain[0]))
    .attr("stroke", BLUE).attr("stroke-width", 1.2).attr("stroke-dasharray", "2,4");

  const line = d3.line().x(d => x(d[0])).y(d => y(d[1]));
  plot.append("path").datum(blueSeries[i]).attr("d", line)
    .attr("fill", "none").attr("stroke", BLUE).attr("stroke-width", 1.1).attr("stroke-linejoin", "round");
  plot.append("path").datum(blackSeries[i]).attr("d", line)
    .attr("fill", "none").attr("stroke", "#000").attr("stroke-width", 1.1).attr("stroke-linejoin", "round");

  const styleAxis = sel => { sel.select(".domain").remove(); sel.selectAll("line").attr("stroke", "#000").attr("stroke-width", 2); };
  g.append("g").attr("transform", `translate(0,${y0 + PH})`)
    .call(d3.axisBottom(x).tickValues(xMinorTicks).tickSize(-11).tickFormat("")).call(styleAxis);
  const xb = g.append("g").attr("transform", `translate(0,${y0 + PH})`)
    .call(d3.axisBottom(x).tickValues(xMajorTicks).tickSize(-15).tickPadding(21)
      .tickFormat(isBottom ? d3.format("d") : () => "")).call(styleAxis);
  xb.selectAll("text").attr("font-family", SERIF).attr("font-size", 28).attr("fill", "#000");
  g.append("g").attr("transform", `translate(0,${y0})`)
    .call(d3.axisTop(x).tickValues(xMinorTicks).tickSize(-11).tickFormat("")).call(styleAxis);
  g.append("g").attr("transform", `translate(0,${y0})`)
    .call(d3.axisTop(x).tickValues(xMajorTicks).tickSize(-15).tickFormat("")).call(styleAxis);

  g.append("g").attr("transform", `translate(${x0},0)`)
    .call(d3.axisLeft(y).tickValues(yMinorTicks).tickSize(-12).tickFormat("")).call(styleAxis);
  const yl = g.append("g").attr("transform", `translate(${x0},0)`)
    .call(d3.axisLeft(y).tickValues(yMajorTicks).tickSize(-19).tickPadding(19)
      .tickFormat(isLeft ? d3.format("d") : () => "")).call(styleAxis);
  yl.selectAll("text").attr("font-family", SERIF).attr("font-size", 28).attr("fill", "#000").attr("dy", "0.4em");
  g.append("g").attr("transform", `translate(${x0 + PW},0)`)
    .call(d3.axisRight(y).tickValues(yRightShortTicks).tickSize(-12).tickFormat("")).call(styleAxis);
  g.append("g").attr("transform", `translate(${x0 + PW},0)`)
    .call(d3.axisRight(y).tickValues(yRightLongTicks).tickSize(-19).tickFormat("")).call(styleAxis);

  g.append("rect").attr("x", x0).attr("y", y0).attr("width", PW).attr("height", PH)
    .attr("fill", "none").attr("stroke", "#000").attr("stroke-width", 2);

  const r1 = y0 + 34, r2 = y0 + 63;
  richText(g, x0 + 31.7, r1, [["F"], ["1", true], ["=F"], ["D", true]], "#000");
  richText(g, x0 + 31.7, r2, [["F"], ["2", true], ["=F"], ["AB", true]], "#000");
  richText(g, x0 + 192, r1, [["M=" + mValue]], "#000");
  richText(g, x0 + 192, r2, [["μ", false, true], ["=" + muValues[i]]], "#000");
  richText(g, x0 + 370.7, r1, [["F"], ["M", true], ["μ", true, true]], BLUE);
  richText(g, x0 + 370.7, r2, [["F"], ["M", true]], "#000");
  richText(g, x0 + 495.7, r1, [[yr]], "#000");

  if (isBottom) {
    g.append("text").attr("x", x0 + PW / 2).attr("y", 977).attr("text-anchor", "middle")
      .attr("font-family", "'Liberation Mono', monospace").attr("font-size", 30)
      .attr("textLength", 254).attr("lengthAdjust", "spacingAndGlyphs")
      .text("Wavelength (Å)");
  }
});
</script></body></html>
